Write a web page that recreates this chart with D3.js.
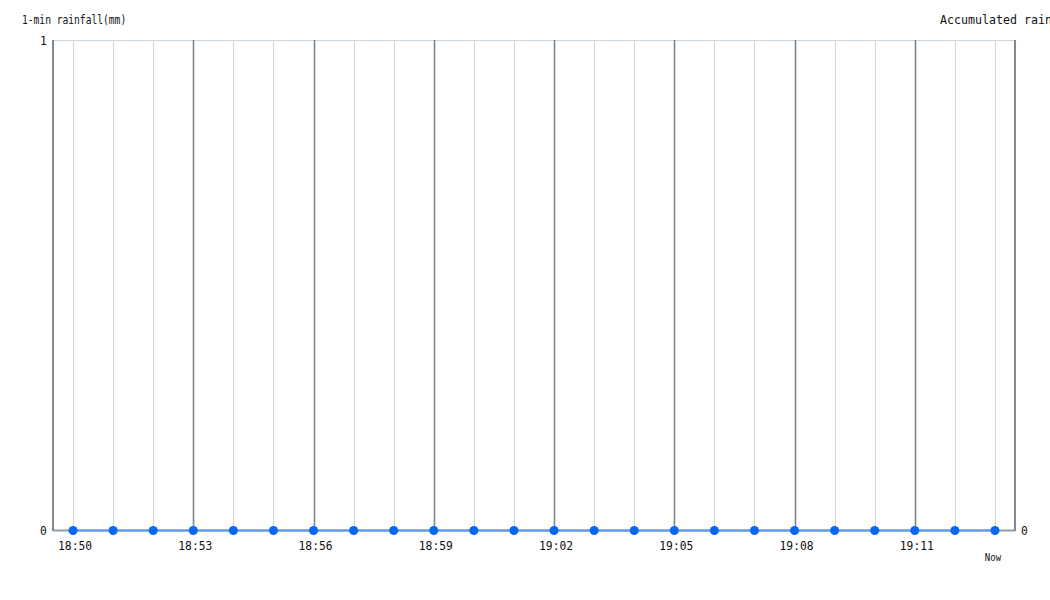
<!DOCTYPE html>
<html>
<head>
<meta charset="utf-8">
<script src="https://cdn.jsdelivr.net/npm/d3@7"></script>
<style>
  html, body { margin: 0; padding: 0; background: #fff; overflow: hidden; }
  svg { display: block; }
  text { font-family: "DejaVu Sans Mono", monospace; fill: #111; }
</style>
</head>
<body>
<svg id="chart" width="1050" height="600"></svg>
<script>
// ---- data ----
const timeLabels = ["18:50","18:51","18:52","18:53","18:54","18:55","18:56","18:57","18:58","18:59",
                    "19:00","19:01","19:02","19:03","19:04","19:05","19:06","19:07","19:08","19:09",
                    "19:10","19:11","19:12","Now"];
const rainfall1min = [0,0,0,0,0,0,0,0,0,0,0,0,0,0,0,0,0,0,0,0,0,0,0,0];
const leftTicks = [0, 1];
const rightTicks = [0];
const leftTitle = "1-min rainfall(mm)";
const rightTitle = "Accumulated rainfall(mm)";

// ---- layout ----
const W = 1050, H = 600;
const m = { top: 40, right: 35, bottom: 70, left: 53 };
const svg = d3.select("#chart");
const g = svg.append("g").attr("transform", `translate(${m.left},${m.top})`);
const iw = W - m.left - m.right, ih = H - m.top - m.bottom;

const x = d3.scaleBand().domain(timeLabels).range([0, iw]).padding(0);
const cx = d => x(d) + x.bandwidth() / 2;
const y = d3.scaleLinear().domain([0, 1]).range([ih, 0]);
const yR = d3.scaleLinear().domain([0, 1]).range([ih, 0]);

// condensed text helper
function ctext(parent, tx, ty, str, size, sx, anchor) {
  return parent.append("text")
    .attr("transform", `translate(${tx},${ty}) scale(${sx},1)`)
    .attr("text-anchor", anchor || "start")
    .style("font-size", size + "px")
    .text(str);
}

// top border
g.append("line").attr("x1", 0).attr("x2", iw).attr("y1", 0.5).attr("y2", 0.5)
  .attr("stroke", "#c9d5df").attr("stroke-width", 1);

// vertical grid
timeLabels.forEach((t, i) => {
  const major = i % 3 === 0 && i > 0 && i < timeLabels.length - 1;
  g.append("line")
    .attr("x1", Math.round(cx(t)) + 0.5).attr("x2", Math.round(cx(t)) + 0.5)
    .attr("y1", 0).attr("y2", ih)
    .attr("stroke", major ? "#7d8893" : "#d2d6da")
    .attr("stroke-width", major ? 1.6 : 1);
});

// left & right axis lines + bottom axis
g.append("line").attr("x1", 0).attr("x2", 0).attr("y1", 0).attr("y2", ih + 1)
  .attr("stroke", "#7d8893").attr("stroke-width", 2);
g.append("line").attr("x1", iw).attr("x2", iw).attr("y1", 0).attr("y2", ih + 1)
  .attr("stroke", "#7d8893").attr("stroke-width", 2);
g.append("line").attr("x1", 0).attr("x2", iw).attr("y1", ih + 0.5).attr("y2", ih + 0.5)
  .attr("stroke", "#8e9aa5").attr("stroke-width", 2);

// y tick labels (positions from scales)
const yAxisL = d3.axisLeft(y).tickValues(leftTicks).tickSize(0).tickPadding(7).tickFormat(d3.format("d"));
const gl = g.append("g").call(yAxisL);
gl.select(".domain").remove();
gl.selectAll("text").style("font-size", "13px").style("font-family", "DejaVu Sans Mono, monospace")
  .attr("transform", "scale(0.87,1)");

const yAxisR = d3.axisRight(yR).tickValues(rightTicks).tickSize(0).tickPadding(7).tickFormat(d3.format("d"));
const gr = g.append("g").attr("transform", `translate(${iw},0)`).call(yAxisR);
gr.select(".domain").remove();
gr.selectAll("text").style("font-size", "13px").style("font-family", "DejaVu Sans Mono, monospace")
  .attr("transform", "scale(0.87,1)");

// x tick labels
timeLabels.forEach((t, i) => {
  if (i === timeLabels.length - 1) {
    ctext(g, cx(t) - 2, ih + 31, t, 11, 0.82, "middle");
  } else if (i % 3 === 0) {
    ctext(g, cx(t) + 2, ih + 20, t, 13, 0.87, "middle");
  }
});

// data line
const line = d3.line().x((d, i) => cx(timeLabels[i])).y(d => y(d));
g.append("path").datum(rainfall1min)
  .attr("d", line).attr("fill", "none")
  .attr("stroke", "#5a9af0").attr("stroke-width", 2)
  .attr("transform", "translate(0,0.5)");

g.selectAll("circle.pt").data(rainfall1min).join("circle")
  .attr("class", "pt")
  .attr("cx", (d, i) => cx(timeLabels[i]))
  .attr("cy", d => y(d) + 0.5)
  .attr("r", 4.5)
  .attr("fill", "#0a66f5");

// axis titles
ctext(svg, 22, 24, leftTitle, 12.5, 0.77);
ctext(svg, 940, 24, rightTitle, 12.5, 0.93);
</script>
</body>
</html>
